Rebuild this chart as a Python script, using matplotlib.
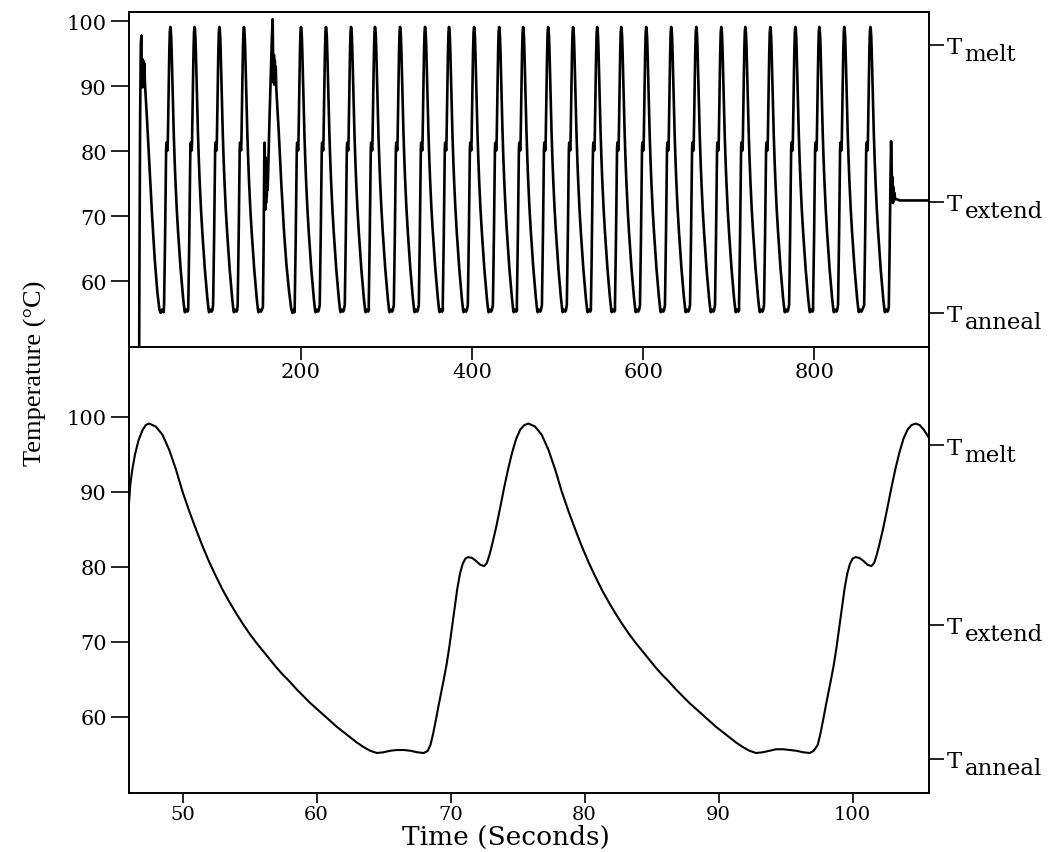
import matplotlib

matplotlib.use("Agg")

import matplotlib.pyplot as plt

# zoomed trace, bottom panel (seconds, deg C)
zoom_t = [46.0, 46.1, 46.25, 46.45, 46.7, 47.0, 47.25, 47.5, 48.0, 48.5, 49.0, 49.5, 50.0,
          50.5, 51.0, 51.5, 52.0, 52.5, 53.0, 53.5, 54.0, 54.5, 55.0, 55.5, 56.0, 56.5,
          57.0, 57.5, 58.0, 58.5, 59.0, 59.5, 60.0, 60.5, 61.0, 61.5, 62.0, 62.5, 63.0,
          63.5, 64.0, 64.5, 65.0, 65.5, 66.0, 66.5, 67.0, 67.5, 68.0, 68.3, 68.5, 68.7,
          68.9, 69.1, 69.3, 69.5, 69.7, 69.9, 70.1, 70.3, 70.5, 70.7, 70.9, 71.1, 71.3,
          71.6, 71.9, 72.2, 72.5, 72.7, 72.9, 73.1, 73.4, 73.7, 74.0, 74.3, 74.6, 74.9,
          75.2, 75.5, 75.8, 76.3, 76.8, 77.3, 77.8, 78.3, 78.8, 79.3, 79.8, 80.3, 80.8,
          81.3, 81.8, 82.3, 82.8, 83.3, 83.8, 84.3, 84.8, 85.3, 85.8, 86.3, 86.8, 87.3,
          87.8, 88.3, 88.8, 89.3, 89.8, 90.3, 90.8, 91.3, 91.8, 92.3, 92.8, 93.3, 93.8,
          94.3, 94.8, 95.3, 95.8, 96.3, 96.8, 97.1, 97.4, 97.6, 97.8, 98.0, 98.2, 98.4,
          98.6, 98.8, 99.0, 99.2, 99.4, 99.6, 99.8, 100.0, 100.2, 100.5, 100.8, 101.1,
          101.4, 101.6, 101.8, 102.0, 102.3, 102.6, 102.9, 103.2, 103.5, 103.8, 104.1,
          104.4, 104.7, 105.0, 105.3, 105.7]
zoom_T = [88.5, 91.0, 93.0, 95.0, 96.8, 98.2, 98.9, 99.1, 98.7, 97.6, 95.6, 93.0, 90.0,
          87.4, 85.0, 82.7, 80.6, 78.7, 76.9, 75.3, 73.8, 72.4, 71.1, 69.9, 68.8, 67.7,
          66.6, 65.6, 64.7, 63.7, 62.8, 61.9, 61.1, 60.3, 59.5, 58.7, 58.0, 57.3, 56.6,
          56.0, 55.5, 55.2, 55.3, 55.5, 55.6, 55.6, 55.5, 55.3, 55.2, 55.5, 56.3, 57.8,
          59.6, 61.5, 63.3, 65.1, 67.0, 69.3, 71.9, 74.6, 77.1, 79.1, 80.4, 81.1, 81.3,
          81.2, 80.8, 80.3, 80.1, 80.5, 81.6, 83.0, 85.3, 87.9, 90.6, 93.1, 95.3, 97.1,
          98.3, 98.9, 99.1, 98.7, 97.6, 95.6, 93.0, 90.0, 87.4, 85.0, 82.7, 80.6, 78.7,
          76.9, 75.3, 73.8, 72.4, 71.1, 69.9, 68.8, 67.7, 66.6, 65.6, 64.7, 63.7, 62.8,
          61.9, 61.1, 60.3, 59.5, 58.7, 58.0, 57.3, 56.6, 56.0, 55.5, 55.2, 55.3, 55.5,
          55.7, 55.7, 55.6, 55.5, 55.3, 55.2, 55.5, 56.3, 57.8, 59.6, 61.5, 63.3, 65.1,
          67.0, 69.3, 71.9, 74.6, 77.1, 79.1, 80.4, 81.1, 81.3, 81.2, 80.8, 80.3,
          80.1, 80.5, 81.6, 83.0, 85.3, 87.9, 90.6, 93.1, 95.3, 97.1, 98.3,
          98.9, 99.1, 98.9, 98.3, 97.2]

# full run, top panel: first noisy melt and its cool-down
lead_t = [10.8, 11.2, 12.0, 12.8, 13.5, 14.0, 14.4, 14.8, 15.2, 15.6, 16.0, 16.5, 17.0,
          17.6, 20.0, 23.0, 26.0, 29.0, 32.0, 34.5, 36.0, 37.5, 39.5]
lead_T = [45.0, 62.0, 85.0, 96.5, 97.8, 90.0, 94.2, 89.8, 94.0, 90.0, 93.8, 90.5, 93.5,
          90.5, 85.0, 77.5, 70.0, 63.5, 58.5, 55.6, 55.1, 55.6, 55.2]

# one cycle: cool-down after a peak, heat-up before the next peak (seconds from peak)
desc_dt = [0.0, 0.5, 1.0, 1.5, 2.0, 2.5, 3.0, 4.0, 5.0, 6.0, 7.5, 9.0, 10.5, 12.0, 13.5,
           15.0, 16.5, 17.0, 18.5, 20.0, 20.8]
desc_T = [99.1, 98.7, 97.6, 95.6, 93.0, 90.0, 87.4, 82.7, 78.7, 75.3, 71.1, 67.7, 64.7,
          61.9, 59.5, 57.3, 55.5, 55.2, 55.6, 55.3, 55.5]
rise_dt = [-7.3, -6.9, -6.5, -6.1, -5.7, -5.3, -4.9, -4.5, -3.9, -3.3, -2.9, -2.4, -1.8,
           -1.2, -0.6, 0.0]
rise_T = [56.3, 59.6, 63.3, 67.0, 71.9, 77.1, 80.4, 81.3, 80.8, 80.1, 81.6, 85.3, 90.6,
          95.3, 98.3, 99.1]

peaks_early = [47.3, 75.6, 104.6, 133.3]

# stalled heat-up near 157 s, overshoot and cool-down
glitch_t = [155.5, 156.3, 157.0, 157.5, 158.0, 158.4, 158.8, 159.2, 159.6, 160.0, 160.5,
            161.0, 161.5, 163.0, 164.5, 166.0, 166.9, 167.4, 167.9, 168.4, 168.9, 169.4,
            169.9, 170.5, 171.2, 174.0, 177.0, 180.0, 183.0, 186.0, 188.5, 190.0, 191.5,
            192.5]
glitch_T = [56.0, 65.0, 78.0, 81.3, 75.0, 71.0, 79.0, 72.0, 78.0, 73.0, 77.0,
            74.0, 76.0, 84.0, 91.0, 97.5, 100.3, 94.5, 90.5, 94.8, 90.2, 94.0,
            91.0, 93.0, 89.5, 83.0, 75.0, 68.0, 62.5, 58.5, 55.8, 55.1, 55.6,
            55.2]

peaks_late = [200.0, 229.2, 258.5, 286.5, 315.8, 345.0, 373.0, 402.3, 431.6, 459.6,
              488.9, 518.0, 546.2, 574.3, 603.5, 632.7, 662.0, 691.2, 719.3, 748.5,
              777.8, 805.8, 835.0, 865.5]

# last heat-up to extension and hold
tail_t = [887.0, 888.0, 889.0, 889.7, 890.3, 890.8, 891.3, 891.8, 892.3, 892.8, 893.5,
          894.5, 896.0, 900.0, 934.0]
tail_T = [56.0, 65.0, 76.0, 81.5, 78.0, 73.0, 76.0, 72.0, 74.5, 72.3, 73.6,
          72.6, 72.6, 72.4, 72.4]

temp_ticks = [60, 70, 80, 90, 100]
run_xticks = [200, 400, 600, 800]
zoom_xticks = [50, 60, 70, 80, 90, 100]
level_names = ["melt", "extend", "anneal"]
run_levels = [96.3, 72.2, 55.1]
zoom_levels = [96.2, 72.3, 54.4]

SERIF = "DejaVu Serif"


def descent(peak):
    return [peak + d for d in desc_dt[1:]], desc_T[1:]


def rise(peak):
    return [peak + d for d in rise_dt], rise_T


run_t, run_T = list(lead_t), list(lead_T)


def add(seg):
    run_t.extend(seg[0])
    run_T.extend(seg[1])


add(rise(peaks_early[0]))
for p, q in zip(peaks_early[:-1], peaks_early[1:]):
    add(descent(p))
    add(rise(q))
add(descent(peaks_early[-1]))
add((glitch_t, glitch_T))
add(rise(peaks_late[0]))
for p, q in zip(peaks_late[:-1], peaks_late[1:]):
    add(descent(p))
    add(rise(q))
add(descent(peaks_late[-1]))
add((tail_t, tail_T))


def label_levels(ax, levels):
    twin = ax.twinx()
    twin.set_ylim(ax.get_ylim())
    twin.set_yticks(levels)
    twin.set_yticklabels([])
    twin.tick_params(axis="y", direction="out", length=11, width=1.2)
    twin.patch.set_visible(False)
    for spine in twin.spines.values():
        spine.set_visible(False)
    for name, v in zip(level_names, levels):
        ax.annotate("T", xy=(1, v), xycoords=("axes fraction", "data"),
                    xytext=(13, -6), textcoords="offset points",
                    ha="left", va="baseline", fontsize=16.5, family=SERIF)
        ax.annotate(name, xy=(1, v), xycoords=("axes fraction", "data"),
                    xytext=(25.5, -11), textcoords="offset points",
                    ha="left", va="baseline", fontsize=16.5, family=SERIF)


fig = plt.figure(figsize=(10.58, 8.53), dpi=100)
left, width = 129 / 1058, 800 / 1058
ax_zoom = fig.add_axes([left, 1 - 794 / 853, width, 446 / 853])
ax_run = fig.add_axes([left, 1 - 348 / 853, width, 335 / 853])
ax_zoom.patch.set_visible(False)

for ax in (ax_run, ax_zoom):
    for spine in ax.spines.values():
        spine.set_linewidth(1.4)
    ax.set_yticks(temp_ticks)
    ax.tick_params(axis="y", direction="out", length=13, width=1.2, pad=3,
                   labelsize=15)
    for lab in ax.get_yticklabels():
        lab.set_family(SERIF)

ax_run.plot(run_t, run_T, color="black", lw=1.9)
ax_run.set_xlim(-1, 934)
ax_run.set_ylim(49.85, 101.4)
ax_run.set_xticks(run_xticks)
ax_run.tick_params(axis="x", direction="out", length=9, width=1.2, pad=2, labelsize=15)
for lab in ax_run.get_xticklabels():
    lab.set_family(SERIF)

ax_zoom.plot(zoom_t, zoom_T, color="black", lw=1.5)
ax_zoom.set_xlim(46, 105.7)
ax_zoom.set_ylim(49.87, 109.3)
ax_zoom.spines["top"].set_visible(False)
ax_zoom.set_xticks(zoom_xticks)
ax_zoom.tick_params(axis="x", direction="out", length=7, width=1.2, pad=1.5,
                    labelsize=14)
for lab in ax_zoom.get_xticklabels():
    lab.set_family(SERIF)

label_levels(ax_run, run_levels)
label_levels(ax_zoom, zoom_levels)

fig.text(35 / 1058, 1 - 373 / 853, "Temperature (°C)", rotation=90, ha="center",
         va="center", fontsize=19, family="Liberation Serif")
fig.text(506 / 1058, 1 - 837 / 853, "Time (Seconds)", ha="center", va="center",
         fontsize=19, family=SERIF)

fig.savefig("out.png", dpi=100)
plt.close(fig)
